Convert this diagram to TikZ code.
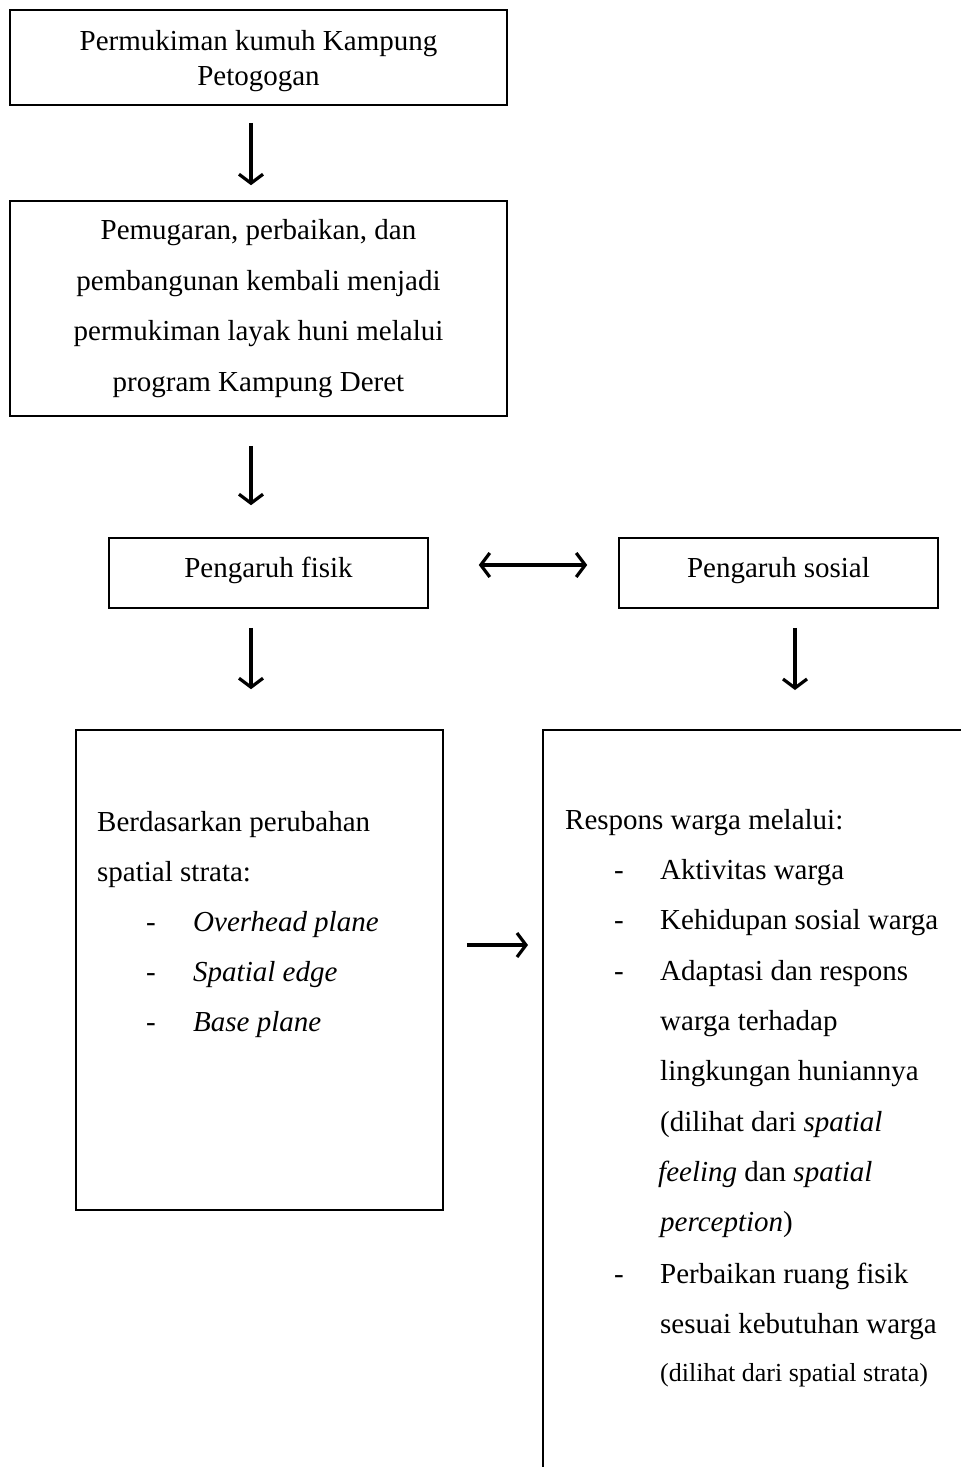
\documentclass[tikz,border=0pt]{standalone}
\usepackage{fontspec}
\setmainfont{Liberation Serif}
\usetikzlibrary{arrows.meta,calc}
\begin{document}
\begin{tikzpicture}[x=1pt,y=-1pt,
  box/.style={draw, line width=1.6pt, inner sep=0pt, align=center,
    font=\fontsize{29}{35}\selectfont},
  lbl/.style={inner sep=0pt, align=center, font=\fontsize{29}{35}\selectfont},
  conn/.style={line width=3.2pt, -{Straight Barb[length=9pt,width=24pt]}},
  dconn/.style={line width=3.2pt, {Straight Barb[length=9pt,width=24pt]}-{Straight Barb[length=9pt,width=24pt]}},
  txt/.style={font=\fontsize{29}{35}\selectfont, inner sep=0pt, anchor=base west},
  small/.style={font=\fontsize{26}{30}\selectfont, inner sep=0pt, anchor=base west}]
\useasboundingbox (0,0) rectangle (961,1467);

\node[box, minimum width=497, minimum height=95] (b1) at (258.5,57.5) {};
\node[lbl] (t1) at (258.5,61) {Permukiman kumuh Kampung\\Petogogan};
\node[box, minimum width=497, minimum height=215, font=\fontsize{29}{50.5}\selectfont] (b2) at (258.5,308.5)
  {Pemugaran, perbaikan, dan\\pembangunan kembali menjadi\\permukiman layak huni melalui\\program Kampung Deret};
\node[box, minimum width=319, minimum height=70] (fis) at (268.5,573) {};
\node[lbl] (tfis) at (268.5,570.5) {Pengaruh fisik};
\node[box, minimum width=319, minimum height=70] (sos) at (778.5,573) {};
\node[lbl] (tsos) at (778.5,570.5) {Pengaruh sosial};
\node[box, minimum width=367, minimum height=480] (lb) at (259.5,970) {};
\coordinate (rb) at (543,730);
\draw[line width=1.6pt] (961,730) -- (rb) -- (543,1467);

% left box text
\node[txt] (l1) at (97,831) {Berdasarkan perubahan};
\node[txt] (l2) at (97,881) {spatial strata:};
\node[txt] (l3d) at (146,931) {-};
\node[txt] (l3) at (193,931) {\itshape Overhead plane};
\node[txt] (l4d) at (146,981) {-};
\node[txt] (l4) at (193,981) {\itshape Spatial edge};
\node[txt] (l5d) at (146,1031) {-};
\node[txt] (l5) at (193,1031) {\itshape Base plane};

% right box text
\node[txt] (r0) at (565,829) {Respons warga melalui:};
\node[txt] (r1d) at (614,879) {-};
\node[txt] (r1) at (660,879) {Aktivitas warga};
\node[txt] (r2d) at (614,929) {-};
\node[txt] (r2) at (660,929) {Kehidupan sosial warga};
\node[txt] (r3d) at (614,980) {-};
\node[txt] (r3) at (660,980) {Adaptasi dan respons};
\node[txt] (r4) at (660,1030) {warga terhadap};
\node[txt] (r5) at (660,1080) {lingkungan huniannya};
\node[txt] (r6) at (660,1131) {(dilihat dari \textit{spatial}};
\node[txt] (r7) at (658,1181) {\textit{feeling} dan \textit{spatial}};
\node[txt] (r8) at (660,1231) {\textit{perception})};
\node[txt] (r9d) at (614,1283) {-};
\node[txt] (r9) at (660,1283) {Perbaikan ruang fisik};
\node[txt] (r10) at (660,1333) {sesuai kebutuhan warga};
\node[small] (r11) at (660,1381) {(dilihat dari spatial strata)};

% connectors
\draw[conn] ($(b1.south)+(-7.5,17)$) -- ($(b2.north)+(-7.5,-15)$);
\draw[conn] ($(b2.south)+(-7.5,29)$) -- ($(fis.north)+(-17.5,-32)$);
\draw[dconn] ($(fis.east)+(50,-8)$) -- ($(sos.west)+(-31,-8)$);
\draw[conn] ($(fis.south)+(-17.5,19)$) -- ($(lb.north)+(-8.5,-40)$);
\draw[conn] ($(sos.south)+(16.5,19)$) -- ($(rb)+(252,-40)$);
\draw[conn] ($(lb.east)+(23,-25)$) -- ($(rb)+(-15,215)$);
\end{tikzpicture}
\end{document}
